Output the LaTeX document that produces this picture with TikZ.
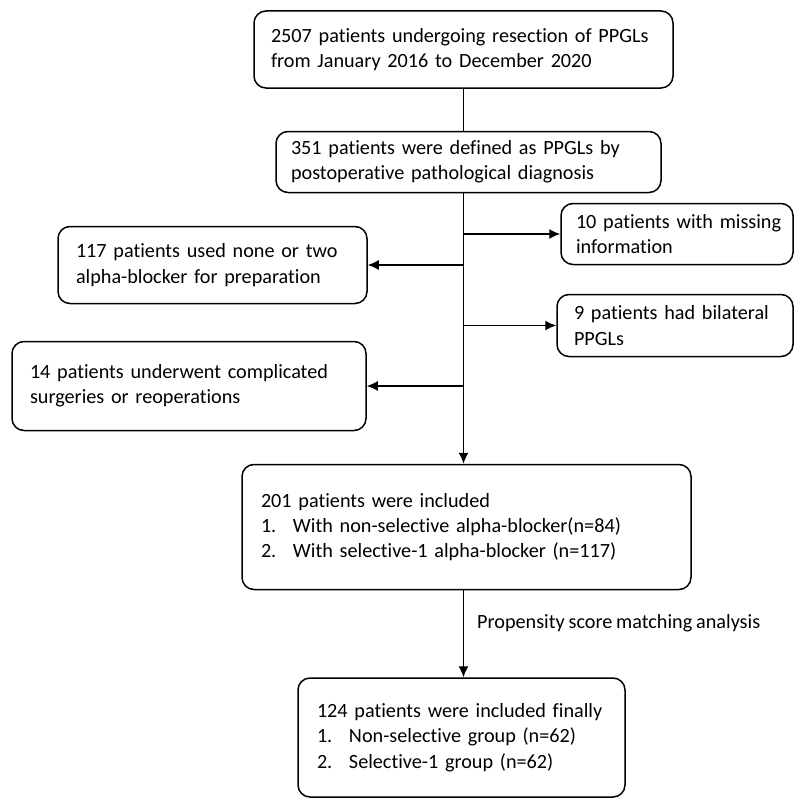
\documentclass[tikz,border=0pt]{standalone}
\usepackage{fontspec}
\setmainfont{Carlito}[Ligatures=NoCommon, WordSpace=0.85]
\usetikzlibrary{arrows.meta}
\tikzset{
  box/.style={draw=black, line width=1.5pt, rounded corners=12pt, align=left, anchor=center,
    font=\fontsize{20.2}{25.3}\selectfont, inner xsep=0pt, inner ysep=0pt},
  lx/.style={execute at begin node={\leftskip=#1\relax\hyphenpenalty=10000\relax}},
  link/.style={line width=1.4pt},
  arr/.style={line width=1.4pt, -{Latex[length=11pt,width=10pt]}},
}
\newcommand{\itm}[1]{\makebox[32pt][l]{#1}}
\begin{document}
\begin{tikzpicture}[x=1pt,y=-1pt]
\useasboundingbox (0,0) rectangle (796,800);
% boxes: center = ((l+r)/2,(t+b)/2)
\node[box, minimum width=419pt, minimum height=77pt, text width=419pt, lx=17pt] (b1) at (463.5,49.5)
  {2507 patients undergoing resection of PPGLs\\from January 2016 to December 2020};
\node[box, minimum width=385pt, minimum height=61pt, text width=385pt, lx=15pt] (b2) at (468.5,162)
  {351 patients were defined as PPGLs by\\postoperative pathological diagnosis};
\node[box, minimum width=232pt, minimum height=61pt, text width=232pt, lx=15pt] (b10) at (677,234)
  {10 patients with missing\\information};
\node[box, minimum width=309pt, minimum height=77pt, text width=309pt, lx=18pt] (b117) at (212.5,265)
  {117 patients used none or two\\alpha-blocker for preparation};
\node[box, minimum width=236pt, minimum height=62pt, text width=236pt, lx=17pt] (b9) at (675,325.5)
  {9 patients had bilateral\\PPGLs};
\node[box, minimum width=354pt, minimum height=89pt, text width=354pt, lx=18pt] (b14) at (189,386)
  {14 patients underwent complicated\\surgeries or reoperations};
\node[box, minimum width=449pt, minimum height=125pt, text width=449pt, lx=19pt] (b201) at (466.5,527)
  {201 patients were included\\\itm{1.}With non-selective alpha-blocker(n=84)\\\itm{2.}With selective-1 alpha-blocker (n=117)};
\node[box, minimum width=327pt, minimum height=119pt, text width=327pt, lx=19pt] (b124) at (461.5,737.5)
  {124 patients were included finally\\\itm{1.}Non-selective group (n=62)\\\itm{2.}Selective-1 group (n=62)};
\node[anchor=west, inner sep=0pt, font=\fontsize{20.2}{25.3}\selectfont] (psm) at (477,623)
  {Propensity score matching analysis};
\coordinate (t) at (463.5,0);
% connectors
\draw[link] (b1.south -| t) -- (b2.north -| t);
\draw[arr] (b2.south -| t) -- (b201.north -| t);
\draw[arr] (b10.west -| t) -- (b10.west);
\draw[arr] (b117.east -| t) -- (b117.east);
\draw[arr] (b9.west -| t) -- (b9.west);
\draw[arr] (b14.east -| t) -- (b14.east);
\draw[arr] (b201.south -| t) -- (b124.north -| t);
\end{tikzpicture}
\end{document}
